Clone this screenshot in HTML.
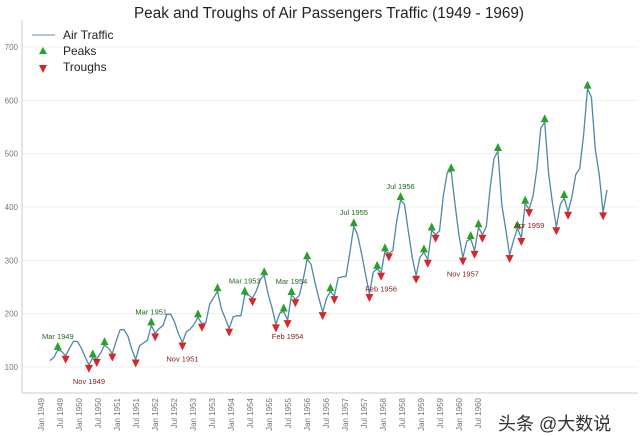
<!DOCTYPE html>
<html><head><meta charset="utf-8">
<style>
html,body{margin:0;padding:0;background:#fff;}
svg{display:block;font-family:"Liberation Sans","Noto Sans CJK SC",sans-serif;}
</style></head>
<body>
<svg id="chart" width="640" height="436" viewBox="0 0 640 436" xmlns="http://www.w3.org/2000/svg">
<text x="329" y="18" text-anchor="middle" font-size="15.3" fill="#222">Peak and Troughs of Air Passengers Traffic (1949 - 1969)</text>
<g id="grid"></g>
<line x1="22" y1="20" x2="22" y2="393" stroke="#ccc" stroke-width="1"/>
<line x1="22" y1="393" x2="638" y2="393" stroke="#ccc" stroke-width="1"/>
<g id="yticks"></g><g id="xticks"></g>
<polyline id="line" fill="none" stroke="#4f88a8" stroke-width="1.3" stroke-linejoin="round"/>
<g id="marks"></g><g id="annots"></g>
<g>
<line x1="32" y1="35" x2="55" y2="35" stroke="#9ab3c6" stroke-width="1.5"/>
<text x="63" y="39" font-size="12" fill="#222">Air Traffic</text>
<polygon points="39,54 47,54 43,47" fill="#2ca02c"/>
<text x="63" y="55" font-size="12" fill="#222">Peaks</text>
<polygon points="39,65 47,65 43,73" fill="#d62728"/>
<text x="63" y="71" font-size="12" fill="#222">Troughs</text>
</g>
<text x="498" y="430" font-size="18" fill="#333">头条 @大数说</text>
</svg>
<script>
const traffic=[112,118,132,129,121,135,148,148,136,119,104,118,
115,126,141,135,125,149,170,170,158,133,114,140,
145,150,178,163,172,178,199,199,184,162,146,166,
171,180,193,181,183,218,230,242,209,191,172,194,
196,196,236,235,229,243,264,272,237,211,180,201,
204,188,235,227,234,264,302,293,259,229,203,229,
242,233,267,269,270,315,364,347,312,274,237,278,
284,277,317,313,318,374,413,405,355,306,271,306,
315,301,356,348,355,422,465,467,404,347,305,336,
340,318,362,348,363,435,491,505,404,359,310,337,
360,342,406,396,420,472,548,559,463,407,362,405,
417,391,419,461,472,535,622,606,508,461,390,432];
const yTicks=[100,200,300,400,500,600,700];
const xTickLabels=["Jan 1949","Jul 1949","Jan 1950","Jul 1950","Jan 1951","Jul 1951","Jan 1952","Jul 1952","Jan 1953","Jul 1953","Jan 1954","Jul 1954","Jan 1955","Jul 1955","Jan 1956","Jul 1956","Jan 1957","Jul 1957","Jan 1958","Jul 1958","Jan 1959","Jul 1959","Jan 1960","Jul 1960"];
const peakAnnotIdx=[2,26,50,62,78,90];
const peakAnnotText=["Mar 1949","Mar 1951","Mar 1953","Mar 1954","Jul 1955","Jul 1956"];
const troughAnnotIdx=[10,34,61,85,106,123];
const troughAnnotText=["Nov 1949","Nov 1951","Feb 1954","Feb 1956","Nov 1957","Apr 1959"];
const NS="http://www.w3.org/2000/svg";
const X=i=>50+i*(557/143);
const Y=v=>367-(v-100)*0.5333;
function mk(tag,parent,attrs){const e=document.createElementNS(NS,tag);for(const k in attrs)e.setAttribute(k,attrs[k]);document.getElementById(parent).appendChild(e);return e;}
yTicks.forEach(v=>{
 const g=mk('line','grid',{x1:22,x2:638,y1:Y(v),y2:Y(v),stroke:'#f0f0f0','stroke-width':1});
 
 
 const t=mk('text','yticks',{x:18,y:Y(v)+3,'text-anchor':'end','font-size':8,fill:'#777'});
 
 
 t.textContent=v;
});
xTickLabels.forEach((s,k)=>{
 const x=41+k*19.0;
 const t=mk('text','xticks',{x:0,y:0,transform:`translate(${x+3},398) rotate(-90)`,'text-anchor':'end','font-size':8,fill:'#777'});
 
 
 t.textContent=s;
});
document.getElementById('line').setAttribute('points',traffic.map((v,i)=>X(i).toFixed(1)+','+Y(v).toFixed(1)).join(' '));
const peaks=[],troughs=[];
for(let i=1;i<traffic.length-1;i++){
 const a=Math.sign(traffic[i]-traffic[i-1]),b=Math.sign(traffic[i+1]-traffic[i]);
 if(b-a===-2)peaks.push(i);
 if(b-a===2)troughs.push(i);
}
peaks.forEach(i=>{
 const x=X(i),y=Y(traffic[i]);
 const p=mk('polygon','marks',{points:`${x-4},${y} ${x+4},${y} ${x},${y-8}`,fill:'#2ca02c'});
 
 
});
troughs.forEach(i=>{
 const x=X(i),y=Y(traffic[i]);
 const p=mk('polygon','marks',{points:`${x-4},${y} ${x+4},${y} ${x},${y+8}`,fill:'#d62728'});
 
 
});
peakAnnotIdx.forEach((i,k)=>{
 const t=mk('text','annots',{x:X(i),y:Y(traffic[i])-11,'text-anchor':'middle','font-size':7.5,fill:'#1e6b1e'});
 
 
 t.textContent=peakAnnotText[k];
});
troughAnnotIdx.forEach((i,k)=>{
 const t=mk('text','annots',{x:X(i),y:Y(traffic[i])+19,'text-anchor':'middle','font-size':7.5,fill:'#8b1a1a'});
 
 
 t.textContent=troughAnnotText[k];
});
</script>
</body></html>
